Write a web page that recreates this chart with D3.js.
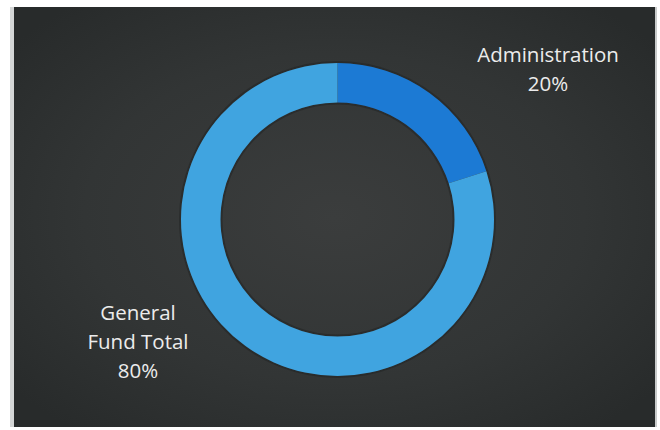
<!DOCTYPE html>
<html>
<head>
<meta charset="utf-8">
<script src="https://cdn.jsdelivr.net/npm/d3@7"></script>
<style>
  html, body { margin: 0; padding: 0; background: #ffffff; }
  svg { display: block; }
</style>
</head>
<body>
<svg id="chart" width="660" height="430"></svg>
<script>
// Budget share by fund
const categories = ["Administration", "General Fund Total"];
const shares = [20, 80];
const labelLines = [["Administration", "20%"], ["General", "Fund Total", "80%"]];
const sliceColors = ["#1c7ad4", "#40a4e0"];

const svg = d3.select("#chart");

// Slide panel with soft radial lighting
const defs = svg.append("defs");
const glow = defs.append("radialGradient")
  .attr("id", "panelGlow")
  .attr("cx", "50%").attr("cy", "50%").attr("r", "65%");
glow.append("stop").attr("offset", "0%").attr("stop-color", "#3b3d3d");
glow.append("stop").attr("offset", "60%").attr("stop-color", "#323535");
glow.append("stop").attr("offset", "100%").attr("stop-color", "#282b2b");

const panel = { x0: 14, y0: 7, x1: 655, y1: 427 };
svg.append("rect")
  .attr("x", panel.x0 - 4).attr("y", panel.y0)
  .attr("width", 4).attr("height", panel.y1 - panel.y0)
  .attr("fill", "#d4d6d6");
svg.append("rect")
  .attr("x", panel.x0).attr("y", panel.y0)
  .attr("width", panel.x1 - panel.x0).attr("height", panel.y1 - panel.y0)
  .attr("fill", "url(#panelGlow)");
svg.append("rect")
  .attr("x", panel.x1).attr("y", panel.y0)
  .attr("width", 2).attr("height", panel.y1 - panel.y0)
  .attr("fill", "#c9cbcb");

// Donut ring
const cx = 337.5, cy = 219.5;
const outerR = 156.5, innerR = 117;

const pie = d3.pie().sort(null).value(d => d.value);
const arcs = pie(categories.map((c, i) => ({ name: c, value: shares[i], color: sliceColors[i] })));
const arc = d3.arc().innerRadius(innerR).outerRadius(outerR);

const g = svg.append("g").attr("transform", `translate(${cx},${cy})`);

// faint dark rim around the ring
g.append("circle").attr("r", outerR + 1).attr("fill", "none")
  .attr("stroke", "#1f2222").attr("stroke-width", 2).attr("opacity", 0.5);
g.append("circle").attr("r", innerR - 1).attr("fill", "none")
  .attr("stroke", "#1f2222").attr("stroke-width", 2).attr("opacity", 0.5);

g.selectAll("path.slice")
  .data(arcs)
  .join("path")
  .attr("class", "slice")
  .attr("d", arc)
  .attr("fill", d => d.data.color);

// Category labels
const labelPos = [
  { x: 548, y: 62 },
  { x: 138, y: 320 }
];
const lineGap = 29;
const font = "'Open Sans', 'Liberation Sans', sans-serif";

labelLines.forEach((lines, i) => {
  const t = svg.append("text")
    .attr("text-anchor", "middle")
    .attr("font-family", font)
    .attr("font-size", 20.5)
    .attr("fill", "#ececec");
  lines.forEach((ln, j) => {
    t.append("tspan")
      .attr("x", labelPos[i].x)
      .attr("y", labelPos[i].y + j * lineGap)
      .text(ln);
  });
});
</script>
</body>
</html>
